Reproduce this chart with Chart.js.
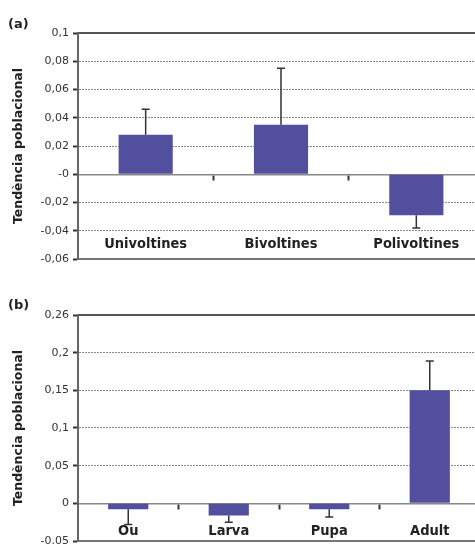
<!DOCTYPE html>
<html>
<head>
<meta charset="utf-8">
<script src="https://cdn.jsdelivr.net/npm/chart.js@4/dist/chart.umd.min.js"></script>
<style>
  html, body { margin: 0; padding: 0; background: #fff; overflow: hidden; }
  #wrap { position: relative; width: 475px; height: 544px; overflow: hidden; }
  canvas { position: absolute; left: 0; }
  .tag { position: absolute; left: 8px; font: bold 13px 'DejaVu Sans', sans-serif; color: #222; }
</style>
</head>
<body>
<div id="wrap">
  <canvas id="chartA" style="top:0" width="490" height="270"></canvas>
  <canvas id="chartB" style="top:270px" width="490" height="283"></canvas>
  <div class="tag" style="top:16px">(a)</div>
  <div class="tag" style="top:297px">(b)</div>
</div>
<script>
// (a) voltinisme
const voltinismLabels = ['Univoltines', 'Bivoltines', 'Polivoltines'];
const voltinismTrend = [0.028, 0.035, -0.029];
const voltinismError = [0.018, 0.040, 0.009];
const voltinismTickValues = [-0.06, -0.04, -0.02, 0, 0.02, 0.04, 0.06, 0.08, 0.1];
const voltinismTickLabels = ['-0,06', '-0,04', '-0,02', '-0', '0,02', '0,04', '0,06', '0,08', '0,1'];

// (b) fase hivernant
const stageLabels = ['Ou', 'Larva', 'Pupa', 'Adult'];
const stageTrend = [-0.008, -0.016, -0.008, 0.150];
const stageError = [0.020, 0.009, 0.010, 0.039];
const stageTickValues = [-0.05, 0, 0.05, 0.1, 0.15, 0.2, 0.25];
const stageTickLabels = ['-0,05', '0', '0,05', '0,1', '0,15', '0,2', '0,26'];

const yTitle = 'Tendència poblacional';

// one-sided error bars, drawn away from zero
const errorBars = {
    id: 'errorBars',
    afterDatasetsDraw(chart) {
        const ctx = chart.ctx;
        const y = chart.scales.y;
        const ds = chart.data.datasets[0];
        const meta = chart.getDatasetMeta(0);
        ctx.save();
        ctx.strokeStyle = '#333';
        ctx.lineWidth = 1.5;
        meta.data.forEach((bar, i) => {
            const v = ds.data[i];
            const end = v >= 0 ? v + ds.errors[i] : v - ds.errors[i];
            const y0 = y.getPixelForValue(v);
            const y1 = y.getPixelForValue(end);
            ctx.beginPath();
            ctx.moveTo(bar.x, y0);
            ctx.lineTo(bar.x, y1);
            ctx.moveTo(bar.x - 4, y1);
            ctx.lineTo(bar.x + 4, y1);
            ctx.stroke();
        });
        ctx.restore();
    }
};

function makePanel(id, labels, values, errors, tickValues, tickLabels, padding, labelPad) {
    const yMin = tickValues[0];
    const yMax = tickValues[tickValues.length - 1];
    return new Chart(document.getElementById(id), {
        type: 'bar',
        data: {
            labels: labels,
            datasets: [{
                data: values,
                errors: errors,
                backgroundColor: '#524f9f',
                barPercentage: 0.4,
                categoryPercentage: 1
            }]
        },
        options: {
            responsive: false,
            animation: false,
            layout: { padding: padding },
            plugins: { legend: { display: false }, tooltip: { enabled: false } },
            scales: {
                x: {
                    position: { y: 0 },
                    offset: true,
                    ticks: { display: false },
                    grid: {
                        offset: true,
                        drawOnChartArea: false,
                        drawTicks: true,
                        tickLength: 5,
                        tickWidth: 2,
                        tickColor: c => c.index === 0 ? 'transparent' : '#333'
                    },
                    border: { color: '#888', width: 1.5 }
                },
                xTop: {
                    axis: 'x',
                    type: 'category',
                    position: 'top',
                    grid: { display: false, drawTicks: false },
                    ticks: { display: false },
                    border: { color: '#555', width: 2 },
                    afterFit: s => { s.height = 0; }
                },
                xLabels: {
                    axis: 'x',
                    type: 'category',
                    position: 'bottom',
                    offset: true,
                    grid: { display: false, drawTicks: false },
                    ticks: {
                        mirror: true,
                        padding: labelPad,
                        maxRotation: 0,
                        autoSkip: false,
                        color: '#222',
                        font: { family: "'DejaVu Sans Condensed', 'Liberation Sans Narrow', sans-serif", size: 14.5, weight: 'bold' }
                    },
                    border: { color: '#777', width: 2 },
                    afterFit: s => { s.height = 0; }
                },
                y: {
                    min: yMin,
                    max: yMax,
                    afterBuildTicks: s => { s.ticks = tickValues.map(v => ({ value: v })); },
                    ticks: {
                        padding: 4,
                        autoSkip: false,
                        color: '#333',
                        font: { family: "'DejaVu Sans', sans-serif", size: 11 },
                        callback: (v, i) => tickLabels[i]
                    },
                    grid: {
                        color: c => {
                            const v = c.tick ? c.tick.value : 0;
                            return (Math.abs(v) < 1e-9 || v === yMin || v === yMax) ? 'transparent' : '#888';
                        },
                        lineWidth: 1,
                        tickLength: 5,
                        tickWidth: 2,
                        tickColor: '#333'
                    },
                    border: { color: '#666', width: 2, dash: [2, 1] },
                    title: {
                        display: true,
                        text: yTitle,
                        color: '#222',
                        padding: { top: 11, bottom: 0 },
                        font: { family: "'DejaVu Sans', sans-serif", size: 12.5, weight: 'bold' }
                    },
                    afterFit: s => { s.width = 78; }
                }
            }
        },
        plugins: [errorBars]
    });
}

makePanel('chartA', voltinismLabels, voltinismTrend, voltinismError,
    voltinismTickValues, voltinismTickLabels,
    { top: 33, bottom: 11, left: 0, right: 6 }, 6.5);
makePanel('chartB', stageLabels, stageTrend, stageError,
    stageTickValues, stageTickLabels,
    { top: 45, bottom: 12, left: 0, right: 10 }, 1.5);
</script>
</body>
</html>
